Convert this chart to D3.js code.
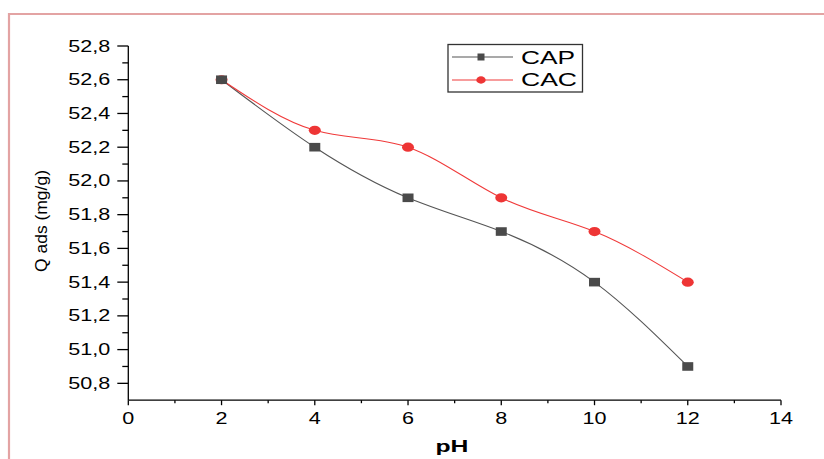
<!DOCTYPE html>
<html><head><meta charset="utf-8">
<script src="https://cdn.jsdelivr.net/npm/d3@7"></script>
<style>body{margin:0;background:#fff}svg{display:block}text{font-family:Arial,"Liberation Sans",sans-serif}</style>
</head><body>
<svg id="c" width="824" height="459"></svg>
<script>
const phValues = [2, 4, 6, 8, 10, 12];
const capValues = [52.6, 52.2, 51.9, 51.7, 51.4, 50.9];
const cacValues = [52.6, 52.3, 52.2, 51.9, 51.7, 51.4];
const seriesNames = ["CAP", "CAC"];
const xTickValues = [0, 2, 4, 6, 8, 10, 12, 14];
const yTickValues = [50.8, 51.0, 51.2, 51.4, 51.6, 51.8, 52.0, 52.2, 52.4, 52.6, 52.8];

const svg = d3.select("#c");
const x = d3.scaleLinear().domain([0, 14]).range([128.3, 781]);
const y = d3.scaleLinear().domain([50.7, 52.8]).range([400.2, 46]);
const fmt = v => v.toFixed(1).replace(".", ",");

// frame
svg.append("path").attr("d", "M9,459V14H824").attr("fill", "none").attr("stroke", "#e3a3a3").attr("stroke-width", 2.2);

// x axis
const xMinor = d3.range(1, 14, 2);
const gx = svg.append("g").attr("transform", "translate(0,400.2)");
gx.append("line").attr("x1", x(0)).attr("x2", x(14)).attr("stroke", "#000").attr("stroke-width", 1.3);
gx.selectAll(".mj").data(xTickValues).join("line").attr("x1", d => x(d)).attr("x2", d => x(d)).attr("y1", 0).attr("y2", 5).attr("stroke", "#000").attr("stroke-width", 1.3);
gx.selectAll(".mn").data(xMinor).join("line").attr("x1", d => x(d)).attr("x2", d => x(d)).attr("y1", 0).attr("y2", 3).attr("stroke", "#000").attr("stroke-width", 1.3);
gx.selectAll("text").data(xTickValues).join("text").attr("x", d => x(d)).attr("y", 24).attr("text-anchor", "middle")
  .attr("font-size", 16).attr("textLength", d => String(d).length * 12).attr("lengthAdjust", "spacingAndGlyphs").text(d => d);

// y axis
const yMinor = d3.range(0, 10).map(i => +(50.9 + i * 0.2).toFixed(1));
const gy = svg.append("g").attr("transform", "translate(128.3,0)");
gy.append("line").attr("y1", y(50.7)).attr("y2", y(52.8)).attr("stroke", "#000").attr("stroke-width", 1.3);
gy.selectAll(".mj").data(yTickValues).join("line").attr("y1", d => y(d)).attr("y2", d => y(d)).attr("x1", 0).attr("x2", -11).attr("stroke", "#000").attr("stroke-width", 1.3);
gy.selectAll(".mn").data(yMinor).join("line").attr("y1", d => y(d)).attr("y2", d => y(d)).attr("x1", 0).attr("x2", -6).attr("stroke", "#000").attr("stroke-width", 1.3);
gy.selectAll("text").data(yTickValues).join("text").attr("x", -18).attr("y", d => y(d) + 5.5).attr("text-anchor", "end")
  .attr("font-size", 16.5).attr("textLength", 42).attr("lengthAdjust", "spacingAndGlyphs").text(fmt);

// axis titles
svg.append("text").attr("x", 452).attr("y", 452).attr("text-anchor", "middle").attr("font-weight", "bold")
  .attr("font-size", 17).attr("textLength", 33).attr("lengthAdjust", "spacingAndGlyphs").text("pH");
svg.append("text").attr("transform", "translate(47,221) rotate(-90)").attr("text-anchor", "middle")
  .attr("font-size", 17).attr("textLength", 102).attr("lengthAdjust", "spacingAndGlyphs").text("Q ads (mg/g)");

// lines
const line = d3.line().x((d, i) => x(phValues[i])).y(d => y(d)).curve(d3.curveNatural);
svg.append("path").attr("d", line(capValues)).attr("fill", "none").attr("stroke", "#555").attr("stroke-width", 1.1);
svg.append("path").attr("d", line(cacValues)).attr("fill", "none").attr("stroke", "#f03a3a").attr("stroke-width", 1.1);

// markers
svg.selectAll(".cac").data(cacValues).join("ellipse").attr("cx", (d, i) => x(phValues[i])).attr("cy", d => y(d)).attr("rx", 6).attr("ry", 4.6).attr("fill", "#ee3535");
svg.selectAll(".cap").data(capValues).join("rect").attr("x", (d, i) => x(phValues[i]) - 5.5).attr("y", d => y(d) - 4.3).attr("width", 11).attr("height", 8.6).attr("fill", "#4a4a4a");

// legend
const lg = svg.append("g");
lg.append("rect").attr("x", 448).attr("y", 44.5).attr("width", 134.5).attr("height", 47.5).attr("fill", "#fff").attr("stroke", "#333").attr("stroke-width", 1.3);
lg.append("line").attr("x1", 452).attr("x2", 513).attr("y1", 57).attr("y2", 57).attr("stroke", "#555").attr("stroke-width", 1.1);
lg.append("rect").attr("x", 477.5).attr("y", 53.5).attr("width", 7).attr("height", 7).attr("fill", "#4a4a4a");
lg.append("line").attr("x1", 452).attr("x2", 513).attr("y1", 80).attr("y2", 80).attr("stroke", "#f03a3a").attr("stroke-width", 1.1);
lg.append("ellipse").attr("cx", 481).attr("cy", 80).attr("rx", 4.7).attr("ry", 3.7).attr("fill", "#ee3535");
lg.append("text").attr("x", 521).attr("y", 63.5).attr("font-size", 17.5).attr("textLength", 54).attr("lengthAdjust", "spacingAndGlyphs").text(seriesNames[0]);
lg.append("text").attr("x", 521).attr("y", 86).attr("font-size", 17.5).attr("textLength", 56).attr("lengthAdjust", "spacingAndGlyphs").text(seriesNames[1]);
</script>
</body></html>
